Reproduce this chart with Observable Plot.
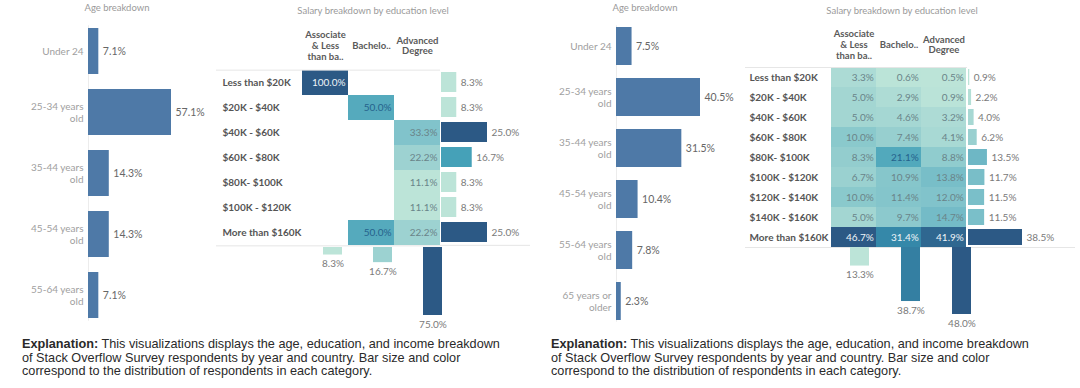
<!DOCTYPE html>
<html><head><meta charset="utf-8">
<script src="https://cdn.jsdelivr.net/npm/d3@7"></script>
<script src="https://cdn.jsdelivr.net/npm/@observablehq/plot@0.6"></script>
<style>
body{margin:0;background:#fff;}
#root{position:relative;width:1080px;height:388px;overflow:hidden;font-family:Lato,sans-serif;}
.panel{position:absolute;top:0;width:540px;height:388px;}
.panel svg{position:absolute;left:0;top:0;}
.title{position:absolute;font-size:9.5px;color:#9a9a9a;transform:translateX(-50%);white-space:nowrap;font-family:Lato,sans-serif;}
.expl{position:absolute;font-family:"Liberation Sans",Arial,sans-serif;font-size:12.7px;line-height:13.6px;color:#2a2a2a;white-space:nowrap;}
</style></head>
<body><div id="root"></div>
<script>
// ---------- data ----------
const eduCols = ["Associate & Less than bachelor's", "Bachelor's", "Advanced Degree"];
const eduHeads = ["Associate\n& Less\nthan ba..", "Bachelo..", "Advanced\nDegree"];

// left dashboard
const agesA = ["Under 24", "25-34 years old", "35-44 years old", "45-54 years old", "55-64 years old"];
const agePctA = [7.1, 57.1, 14.3, 14.3, 7.1];
const salaryA = ["Less than $20K", "$20K - $40K", "$40K - $60K", "$60K - $80K", "$80K- $100K", "$100K - $120K", "More than $160K"];
const assocA = [100.0, null, null, null, null, null, null];
const bachA  = [null, 50.0, null, null, null, null, 50.0];
const advA   = [null, null, 33.3, 22.2, 11.1, 11.1, 22.2];
const salaryTotA = [8.3, 8.3, 25.0, 16.7, 8.3, 8.3, 25.0];
const eduTotA = [8.3, 16.7, 75.0];

// right dashboard
const agesB = ["Under 24", "25-34 years old", "35-44 years old", "45-54 years old", "55-64 years old", "65 years or older"];
const agePctB = [7.5, 40.5, 31.5, 10.4, 7.8, 2.3];
const salaryB = ["Less than $20K", "$20K - $40K", "$40K - $60K", "$60K - $80K", "$80K- $100K", "$100K - $120K", "$120K - $140K", "$140K - $160K", "More than $160K"];
const assocB = [3.3, 5.0, 5.0, 10.0, 8.3, 6.7, 10.0, 5.0, 46.7];
const bachB  = [0.6, 2.9, 4.6, 7.4, 21.1, 10.9, 11.4, 9.7, 31.4];
const advB   = [0.5, 0.9, 3.2, 4.1, 8.8, 13.8, 12.0, 14.7, 41.9];
const salaryTotB = [0.9, 2.2, 4.0, 6.2, 13.5, 11.7, 11.5, 11.5, 38.5];
const eduTotB = [13.3, 38.7, 48.0];

const ageLabel = {
  "Under 24": "Under 24",
  "25-34 years old": "25-34 years\nold",
  "35-44 years old": "35-44 years\nold",
  "45-54 years old": "45-54 years\nold",
  "55-64 years old": "55-64 years\nold",
  "65 years or older": "65 years or\nolder"
};

// ---------- style ----------
const blueTeal = ["#bce4d8","#aedcd5","#a1d5d2","#95cecf","#89c8cc","#7ec1ca","#72bac6","#66b2c2","#59acbe","#4ba5ba","#419eb6","#3b96b2","#358ead","#3586a7","#347ea1","#32779b","#316f96","#2f6790","#2d608a","#2c5985"];
const interp = d3.piecewise(d3.interpolateRgb, blueTeal);
const fmt = v => v.toFixed(1) + "%";
const lineColor = "#e6e6e6";
const baseStyle = {background: "transparent", overflow: "visible", fontFamily: "Lato, sans-serif"};

function buildPanel(left, D, P) {
  const root = document.getElementById("root");
  const el = document.createElement("div");
  el.className = "panel";
  el.style.left = left + "px";
  root.appendChild(el);

  // titles
  const t1 = document.createElement("div"); t1.className = "title";
  t1.textContent = "Age breakdown"; t1.style.left = P.ageTitleX + "px"; t1.style.top = "2px";
  const t2 = document.createElement("div"); t2.className = "title";
  t2.textContent = "Salary breakdown by education level"; t2.style.left = P.salTitleX + "px"; t2.style.top = "5px";
  el.appendChild(t1); el.appendChild(t2);

  // age breakdown
  const ageData = D.ages.map((a, i) => ({age: a, pct: D.agePct[i]}));
  el.appendChild(Plot.plot({
    width: 540, height: 330,
    marginLeft: P.ageX[0], marginRight: 0, marginTop: P.ageY[0] + 6, marginBottom: 330 - P.ageY[1] + 6,
    style: baseStyle,
    x: {domain: [0, d3.max(D.agePct)], range: P.ageX, axis: null},
    y: {domain: D.ages, range: P.ageY, paddingInner: P.agePad, paddingOuter: P.agePad / 2, axis: null},
    marks: [
      Plot.ruleX([0], {stroke: "#ececec"}),
      Plot.barX(ageData, {x: "pct", y: "age", fill: "#4e79a7"}),
      Plot.text(ageData, {x: "pct", y: "age", text: d => fmt(d.pct), textAnchor: "start", dx: 4, fill: "#666", fontSize: 10.5}),
      Plot.text(ageData, {y: "age", frameAnchor: "left", text: d => ageLabel[d.age], textAnchor: "end", dx: -5, fill: "#a0a0a0", fontSize: 10, lineHeight: 1.15})
    ]
  }));

  // heatmap cells
  const cells = [];
  D.salary.forEach((s, i) => D.eduVals.forEach((arr, j) => {
    if (arr[i] != null) cells.push({salary: s, edu: eduCols[j], v: arr[i]});
  }));
  const cExt = d3.extent(cells, d => d.v);
  const step = (P.hmY[1] - P.hmY[0]) / D.salary.length;
  const bw = (P.hmX[1] - P.hmX[0]) / eduCols.length;
  const txtColor = v => {
    const t = (v - cExt[0]) / (cExt[1] - cExt[0]);
    return t > 0.6 ? "#eef4f8" : t > 0.35 ? "#25628c" : "#6a8489";
  };
  el.appendChild(Plot.plot({
    width: 540, height: 330,
    marginLeft: P.frameL, marginRight: 540 - P.hmX[1], marginTop: P.hmY[0], marginBottom: 330 - P.hmY[1],
    style: baseStyle,
    x: {domain: eduCols, range: P.hmX, padding: 0, axis: null},
    y: {domain: D.salary, range: P.hmY, padding: 0, axis: null},
    color: {type: "linear", domain: cExt, interpolate: interp},
    marks: [
      Plot.cell(cells, {x: "edu", y: "salary", fill: "v"}),
      Plot.text(cells, {x: "edu", y: "salary", text: d => fmt(d.v), textAnchor: "end", dx: bw / 2 - 3, fill: d => txtColor(d.v), fontSize: 10}),
      Plot.text(D.salary, {y: d => d, frameAnchor: "left", dx: P.rowDx, textAnchor: "start", text: d => d, fontWeight: "bold", fill: "#555", fontSize: 10}),
      Plot.text(eduCols, {x: d => d, frameAnchor: "top", dy: P.headDy, text: (d, i) => eduHeads[i], fontWeight: "bold", fill: "#5a5a5a", fontSize: 9.5, lineAnchor: "middle", lineHeight: 1.12}),
      Plot.ruleY([D.salary[0]], {dy: -step / 2, stroke: lineColor}),
      Plot.ruleY([D.salary[D.salary.length - 1]], {dy: step / 2, stroke: lineColor})
    ]
  }));

  // salary totals (right margin)
  const tot = D.salary.map((s, i) => ({salary: s, v: D.salaryTot[i]}));
  el.appendChild(Plot.plot({
    width: 540, height: 330,
    marginLeft: P.hmX[1], marginRight: P.lineR, marginTop: P.hmY[0], marginBottom: 330 - P.hmY[1],
    style: baseStyle,
    x: {domain: [0, d3.max(D.salaryTot)], range: P.totX, axis: null},
    y: {domain: D.salary, range: P.hmY, paddingInner: P.totPad, paddingOuter: P.totPad / 2, axis: null},
    color: {type: "linear", domain: d3.extent(D.salaryTot), interpolate: interp},
    marks: [
      Plot.barX(tot, {x: "v", y: "salary", fill: "v"}),
      Plot.text(tot, {x: "v", y: "salary", text: d => fmt(d.v), textAnchor: "start", dx: 4, fill: "#7a7a7a", fontSize: 10}),
      Plot.ruleY([D.salary[D.salary.length - 1]], {dy: step / 2, stroke: lineColor})
    ]
  }));

  // education totals (bottom)
  const etot = eduCols.map((e, i) => ({edu: e, v: D.eduTot[i]}));
  el.appendChild(Plot.plot({
    width: 540, height: 340, margin: 0,
    style: baseStyle,
    x: {domain: eduCols, range: P.botX, paddingInner: P.botPad, paddingOuter: P.botPad / 2, axis: null},
    y: {domain: [0, d3.max(D.eduTot)], range: P.botY, axis: null},
    color: {type: "linear", domain: d3.extent(D.eduTot), interpolate: interp},
    marks: [
      Plot.barY(etot, {x: "edu", y: "v", fill: "v"}),
      Plot.text(etot, {x: "edu", y: "v", text: d => fmt(d.v), dy: 9, fill: "#7a7a7a", fontSize: 10})
    ]
  }));

  // explanation
  const ex = document.createElement("div");
  ex.className = "expl";
  ex.style.left = P.explX + "px"; ex.style.top = "338px";
  ex.innerHTML = "<b>Explanation:</b> This visualizations displays the age, education, and income breakdown<br>of Stack Overflow Survey respondents by year and country. Bar size and color<br>correspond to the distribution of respondents in each category.";
  el.appendChild(ex);
}

buildPanel(0,
  {ages: agesA, agePct: agePctA, salary: salaryA, eduVals: [assocA, bachA, advA], salaryTot: salaryTotA, eduTot: eduTotA},
  {ageTitleX: 117, salTitleX: 373, ageX: [88, 171], ageY: [19.25, 326.75], agePad: 0.252,
   hmX: [302, 440], hmY: [67, 247], frameL: 216, rowDx: 6, headDy: -22,
   totX: [441, 487], totPad: 0.22, lineR: 10,
   botX: [307.25, 458.75], botPad: 0.614, botY: [247, 315], explX: 22});

buildPanel(540,
  {ages: agesB, agePct: agePctB, salary: salaryB, eduVals: [assocB, bachB, advB], salaryTot: salaryTotB, eduTot: eduTotB},
  {ageTitleX: 105, salTitleX: 362, ageX: [76, 160], ageY: [19.3, 327.7], agePad: 0.26,
   hmX: [290, 427], hmY: [67, 247], frameL: 205, rowDx: 4, headDy: -23,
   totX: [428, 482], totPad: 0.2, lineR: 5,
   botX: [294, 447], botPad: 0.627, botY: [247, 314], explX: 11});
</script>
</body></html>
